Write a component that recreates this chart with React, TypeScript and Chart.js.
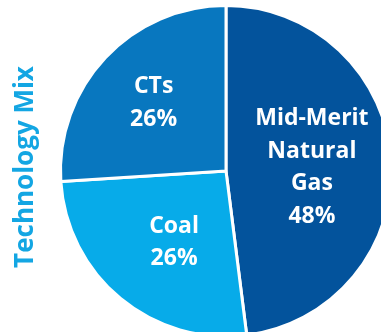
import React, { useEffect, useRef } from "react";
import { Chart, registerables } from "chart.js";

Chart.register(...registerables);

const categories = ["Mid-Merit Natural Gas", "Coal", "CTs"];
const labelLines = [["Mid-Merit", "Natural", "Gas"], ["Coal"], ["CTs"]];
const shares = [48, 26, 26];
const sliceColors = ["#03539c", "#07abe9", "#0877bf"];
const titleText = "Technology Mix";

const FONT = "'Open Sans', 'DejaVu Sans', sans-serif";

// Label anchor per slice: fraction of the outer radius plus a small pixel nudge.
const labelPlacement = [
  { r: 0.52, dx: 0, dy: 2 },
  { r: 0.53, dx: 4, dy: 4 },
  { r: 0.6, dx: 0, dy: 0 },
];

const sliceLabels = {
  id: "sliceLabels",
  afterDatasetsDraw(chart: any) {
    const ctx = chart.ctx;
    const meta = chart.getDatasetMeta(0);
    ctx.save();
    ctx.fillStyle = "#ffffff";
    ctx.font = `bold 23px ${FONT}`;
    ctx.textAlign = "center";
    ctx.textBaseline = "middle";
    const lineH = 32.5;
    meta.data.forEach((arc: any, i: number) => {
      const p = arc.getProps(["x", "y", "startAngle", "endAngle", "outerRadius"], true);
      const mid = (p.startAngle + p.endAngle) / 2;
      const pl = labelPlacement[i];
      const r = p.outerRadius * pl.r;
      const cx = p.x + Math.cos(mid) * r + pl.dx;
      const cy = p.y + Math.sin(mid) * r + pl.dy;
      const lines = [...labelLines[i], `${shares[i]}%`];
      const top = cy - ((lines.length - 1) * lineH) / 2;
      lines.forEach((t, k) => ctx.fillText(t, cx, top + k * lineH));
    });
    ctx.restore();
  },
};

const sideTitle = {
  id: "sideTitle",
  afterDraw(chart: any) {
    const ctx = chart.ctx;
    ctx.save();
    ctx.translate(26, 167);
    ctx.rotate(-Math.PI / 2);
    ctx.fillStyle = "#13a6e3";
    ctx.font = `bold 26px ${FONT}`;
    ctx.textAlign = "center";
    ctx.textBaseline = "middle";
    ctx.fillText(titleText, 0, 0);
    ctx.restore();
  },
};

export default function App() {
  const ref = useRef<HTMLCanvasElement>(null);

  useEffect(() => {
    if (!ref.current) return;
    const chart = new Chart(ref.current, {
      type: "pie",
      data: {
        labels: categories,
        datasets: [
          {
            data: shares,
            backgroundColor: sliceColors,
            borderColor: "#ffffff",
            borderWidth: 3,
          },
        ],
      },
      options: {
        responsive: false,
        animation: false,
        layout: { padding: { left: 59, right: 59, top: 4, bottom: 4 } },
        plugins: {
          legend: { display: false },
          tooltip: { enabled: false },
          title: { display: false },
        },
      },
      plugins: [sliceLabels, sideTitle],
    });
    return () => chart.destroy();
  }, []);

  return (
    <div style={{ position: "absolute", left: 0, top: 0, width: 381, height: 332, overflow: "hidden" }}>
      <canvas ref={ref} width={452} height={342} />
    </div>
  );
}
